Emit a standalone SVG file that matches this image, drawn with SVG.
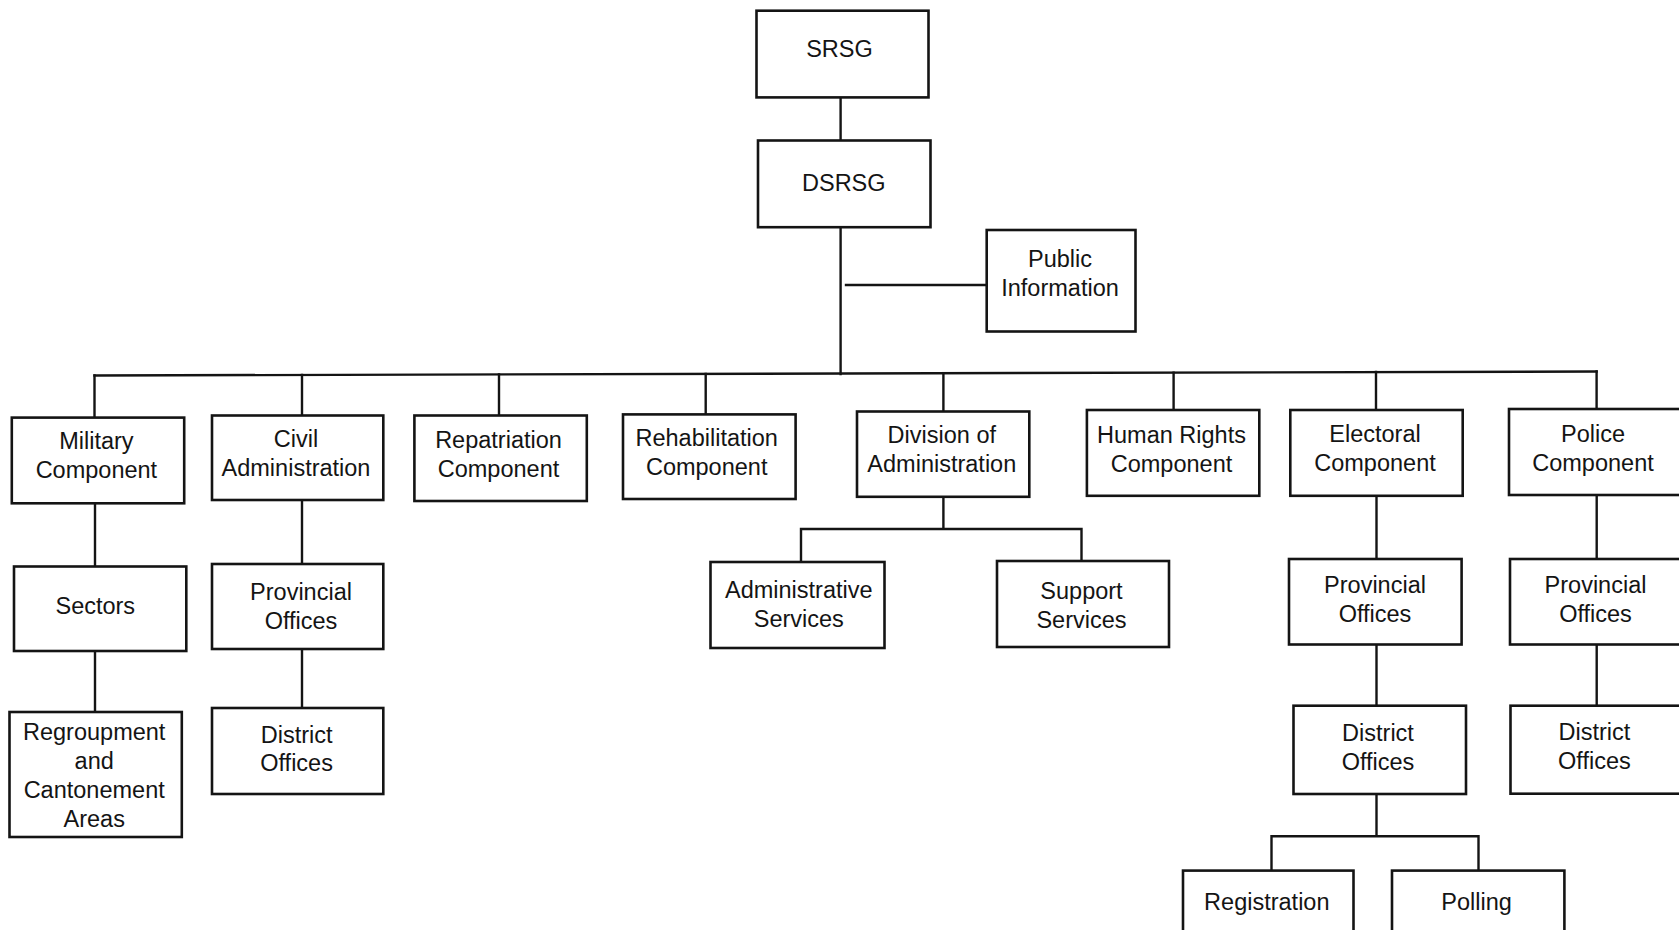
<svg xmlns="http://www.w3.org/2000/svg" width="1679" height="930" viewBox="0 0 1679 930">
  <style>
    .box { fill: #ffffff; stroke: #141414; stroke-width: 2.6; }
    .wire { fill: none; stroke: #141414; stroke-width: 2.4; stroke-linecap: square; }
    text { font-family: "Liberation Sans", Arial, Helvetica, sans-serif; font-size: 23.5px; fill: #141414; text-anchor: middle; }
  </style>
  <rect width="1679" height="930" fill="#ffffff"/>

  <!-- reporting lines -->
  <g id="connectors">
    <!-- SRSG to DSRSG and down to the main bus -->
    <path class="wire" d="M840.6 97 V140 M840.6 227 V374"/>
    <!-- Public Information branch -->
    <path class="wire" d="M846 285 H986"/>
    <!-- main bus -->
    <path class="wire" d="M94.5 375.5 L1596.6 371.5"/>
    <!-- drops to the components -->
    <path class="wire" d="M94.5 375.5 V417.6 M302 375 V415.5 M499 374.4 V415.5 M705.7 373.9 V414.4 M943.4 373.2 V411 M1173.6 372.6 V410 M1376 372 V410 M1596.6 371.5 V409"/>
    <!-- Military -->
    <path class="wire" d="M95 503 V566.5 M95 651 V712"/>
    <!-- Civil Administration -->
    <path class="wire" d="M302 500 V564 M302 649 V708"/>
    <!-- Division of Administration -->
    <path class="wire" d="M943.4 497 V529 M801 529 H1081.5 M801 529 V562 M1081.5 529 V561"/>
    <!-- Electoral -->
    <path class="wire" d="M1376.5 496 V559 M1376.5 644.5 V705.5 M1376.5 794 V836.3 M1271.5 836.3 H1478.5 M1271.5 836.3 V870.5 M1478.5 836.3 V870.5"/>
    <!-- Police -->
    <path class="wire" d="M1596.7 495 V559 M1596.7 644 V705.7"/>
  </g>

  <g id="srsg">
    <rect class="box" x="756.5" y="10.7" width="172" height="86.7"/>
    <text x="839.5" y="56.5">SRSG</text>
  </g>
  <g id="dsrsg">
    <rect class="box" x="758" y="140.5" width="172.5" height="86.7"/>
    <text x="843.8" y="191">DSRSG</text>
  </g>
  <g id="public-information">
    <rect class="box" x="986.7" y="230" width="148.8" height="101.5"/>
    <text x="1060" y="266.5">Public</text>
    <text x="1060" y="295.5">Information</text>
  </g>

  <g id="military-component">
    <rect class="box" x="11.8" y="417.6" width="172.4" height="85.7"/>
    <text x="96.4" y="449">Military</text>
    <text x="96.4" y="478">Component</text>
  </g>
  <g id="civil-administration">
    <rect class="box" x="212" y="415.5" width="171.3" height="84.5"/>
    <text x="296" y="447">Civil</text>
    <text x="296" y="476">Administration</text>
  </g>
  <g id="repatriation-component">
    <rect class="box" x="414.4" y="415.5" width="172.4" height="85.5"/>
    <text x="498.5" y="448">Repatriation</text>
    <text x="498.5" y="477">Component</text>
  </g>
  <g id="rehabilitation-component">
    <rect class="box" x="623" y="414.4" width="172.6" height="84.6"/>
    <text x="706.7" y="446">Rehabilitation</text>
    <text x="706.7" y="475">Component</text>
  </g>
  <g id="division-of-administration">
    <rect class="box" x="857" y="411.5" width="172.3" height="85.3"/>
    <text x="941.8" y="443">Division of</text>
    <text x="941.8" y="472">Administration</text>
  </g>
  <g id="human-rights-component">
    <rect class="box" x="1086.9" y="410" width="172.4" height="85.8"/>
    <text x="1171.5" y="443">Human Rights</text>
    <text x="1171.5" y="472">Component</text>
  </g>
  <g id="electoral-component">
    <rect class="box" x="1290.3" y="410" width="172.4" height="85.8"/>
    <text x="1375" y="442">Electoral</text>
    <text x="1375" y="471">Component</text>
  </g>
  <!-- the Police column runs past the right edge of the sheet -->
  <g id="police-component">
    <rect class="box" x="1509" y="409" width="200" height="86"/>
    <text x="1593" y="442">Police</text>
    <text x="1593" y="471">Component</text>
  </g>

  <g id="sectors">
    <rect class="box" x="14" y="566.5" width="172.3" height="84.5"/>
    <text x="95.3" y="614">Sectors</text>
  </g>
  <g id="regroupment-and-cantonement-areas">
    <rect class="box" x="9.5" y="712" width="172.3" height="125"/>
    <text x="94.2" y="739.5">Regroupment</text>
    <text x="94.2" y="768.5">and</text>
    <text x="94.2" y="797.5">Cantonement</text>
    <text x="94.2" y="827">Areas</text>
  </g>
  <g id="civil-provincial-offices">
    <rect class="box" x="212" y="564" width="171.3" height="85"/>
    <text x="301" y="600">Provincial</text>
    <text x="301" y="629">Offices</text>
  </g>
  <g id="civil-district-offices">
    <rect class="box" x="212" y="708" width="171.3" height="86"/>
    <text x="296.6" y="743">District</text>
    <text x="296.6" y="771">Offices</text>
  </g>
  <g id="administrative-services">
    <rect class="box" x="710.5" y="562" width="174" height="86"/>
    <text x="798.8" y="598">Administrative</text>
    <text x="798.8" y="627">Services</text>
  </g>
  <g id="support-services">
    <rect class="box" x="997" y="561" width="172" height="86"/>
    <text x="1081.5" y="599">Support</text>
    <text x="1081.5" y="628">Services</text>
  </g>
  <g id="electoral-provincial-offices">
    <rect class="box" x="1289" y="559" width="172.6" height="85.5"/>
    <text x="1375" y="593">Provincial</text>
    <text x="1375" y="622">Offices</text>
  </g>
  <g id="electoral-district-offices">
    <rect class="box" x="1293.5" y="705.7" width="172.5" height="88.3"/>
    <text x="1378" y="740.5">District</text>
    <text x="1378" y="769.5">Offices</text>
  </g>
  <g id="police-provincial-offices">
    <rect class="box" x="1510" y="559" width="200" height="85.5"/>
    <text x="1595.5" y="593">Provincial</text>
    <text x="1595.5" y="622">Offices</text>
  </g>
  <g id="police-district-offices">
    <rect class="box" x="1510.5" y="705.7" width="200" height="88"/>
    <text x="1594.4" y="739.5">District</text>
    <text x="1594.4" y="768.5">Offices</text>
  </g>
  <g id="registration">
    <rect class="box" x="1183" y="870.6" width="170.5" height="70"/>
    <text x="1266.8" y="910">Registration</text>
  </g>
  <g id="polling">
    <rect class="box" x="1392" y="870.6" width="172.4" height="70"/>
    <text x="1476.6" y="910">Polling</text>
  </g>
</svg>
